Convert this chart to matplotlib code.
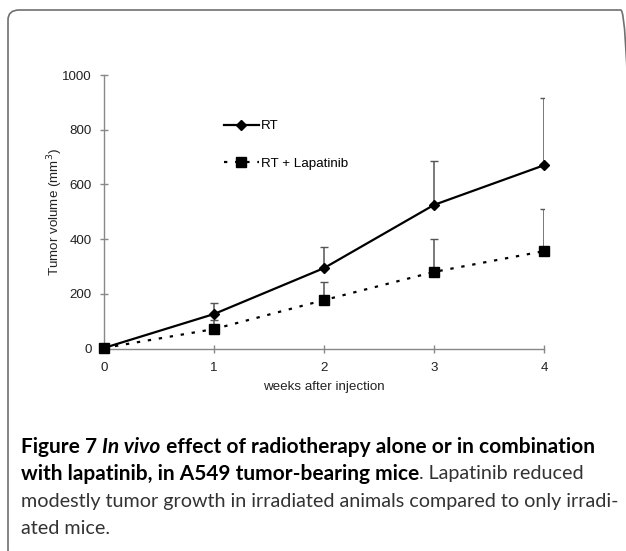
import matplotlib
matplotlib.use("Agg")
import matplotlib.pyplot as plt
from matplotlib.patches import FancyBboxPatch

# data
weeks = [0, 1, 2, 3, 4]
rt_mean = [2, 126, 294, 525, 670]
rt_err = [0, 40, 77, 160, 245]
lap_mean = [2, 71, 177, 280, 356]
lap_err = [0, 34, 66, 120, 154]

x_ticks = [0, 1, 2, 3, 4]
y_ticks = [0, 200, 400, 600, 800, 1000]

W, H = 626, 551
fig = plt.figure(figsize=(W / 100, H / 100), dpi=100)

# rounded frame around the figure panel
frame = FancyBboxPatch((8 / W, 1 - 560 / H), 624 / W, 550 / H,
                       boxstyle="round,pad=0,rounding_size=0.018",
                       transform=fig.transFigure, fill=False,
                       edgecolor="#707070", linewidth=1.2, clip_on=False)
fig.patches.append(frame)

ax = fig.add_axes([104 / W, 1 - 348.5 / H, 440 / W, 273.5 / H])
ax.set_xlim(0, 4)
ax.set_ylim(0, 1000)

axis_grey = "#888888"
font = "Liberation Sans"

ax.errorbar(weeks, rt_mean, yerr=[[0] * 5, rt_err], fmt="none",
            ecolor="#555555", elinewidth=1.1, capsize=3, capthick=1, zorder=2)
ax.errorbar(weeks, lap_mean, yerr=[[0] * 5, lap_err], fmt="none",
            ecolor="#555555", elinewidth=1.1, capsize=3, capthick=1, zorder=2)

ax.plot(weeks, rt_mean, color="black", linewidth=1.6, marker="D",
        markersize=5, label="RT", zorder=3, clip_on=False)
ax.plot(weeks, lap_mean, color="black", linewidth=1.6, linestyle=(0, (1.5, 3.5)),
        marker="s", markersize=6.5, label="RT + Lapatinib", zorder=3, clip_on=False)

for side in ["top", "right"]:
    ax.spines[side].set_visible(False)
for side in ["left", "bottom"]:
    ax.spines[side].set_color(axis_grey)
    ax.spines[side].set_linewidth(1)

ax.set_xticks(x_ticks)
ax.set_yticks(y_ticks)
ax.tick_params(direction="inout", length=6, width=1, color=axis_grey,
               labelsize=9.6)
ax.tick_params(axis="x", pad=7)
ax.tick_params(axis="y", pad=6)
for lab in ax.get_xticklabels() + ax.get_yticklabels():
    lab.set_fontfamily(font)
    lab.set_color("#222222")

ax.set_xlabel("weeks after injection", fontsize=9.6, fontfamily=font,
              color="#222222", labelpad=5)
ax.set_ylabel("Tumor volume (mm$^3$)", fontsize=9.6, fontfamily=font,
              color="#222222", labelpad=-2)

leg = ax.legend(loc="upper left", bbox_to_anchor=(212 / W, 1 - 108 / H),
                bbox_transform=fig.transFigure, frameon=False,
                handlelength=2.6, handletextpad=0.15, labelspacing=1.9,
                prop={"family": font, "size": 9.6})

# caption, built from styled runs
caption = [
    [("Figure 7 ", "bold", "normal", "black"),
     ("In vivo", "bold", "italic", "black"),
     (" effect of radiotherapy alone or in combination", "bold", "normal", "black")],
    [("with lapatinib, in A549 tumor-bearing mice", "bold", "normal", "black"),
     (". Lapatinib reduced", "normal", "normal", "#333333")],
    [("modestly tumor growth in irradiated animals compared to only irradi-",
      "normal", "normal", "#333333")],
    [("ated mice.", "normal", "normal", "#333333")],
]
cap_font = "Lato"
cap_y = [447, 474, 501, 528]
renderer = fig.canvas.get_renderer()


def fit_size(text, weight, target):
    probe = fig.text(0, 0, text, fontsize=12, fontweight=weight, fontfamily=cap_font)
    w = probe.get_window_extent(renderer).width
    probe.remove()
    return 12 * target / w


bold_size = fit_size("".join(r[0] for r in caption[0]), "bold", 572)
norm_size = fit_size(caption[2][0][0], "normal", 597)

for runs, yc in zip(caption, cap_y):
    x = 21
    for txt, weight, style, col in runs:
        size = bold_size if weight == "bold" else norm_size
        t = fig.text(x / W, 1 - yc / H, txt, fontsize=size, fontweight=weight,
                     fontstyle=style, fontfamily=cap_font, color=col,
                     va="center", ha="left")
        x += t.get_window_extent(renderer).width

fig.savefig("out.png", dpi=100)
